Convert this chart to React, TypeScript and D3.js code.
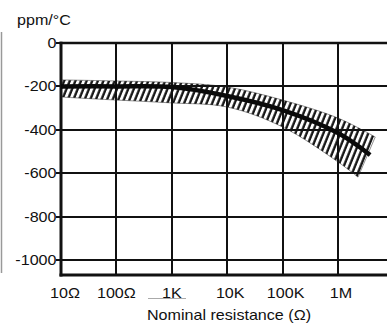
import React, { useRef, useEffect } from "react";
import * as d3 from "d3";

// resistance (ohm) and TCR (ppm/°C)
const resistance = [10, 100, 1000, 10000, 100000, 1000000];
const upperTcr = [-170, -175, -182, -203, -263, -346];
const centerTcr = [-200, -200, -203, -244, -309, -415];
const lowerTcr = [-249, -263, -276, -295, -387, -548];
// where each curve stops on the right
const upperEnd = [4.7e6, -433];
const centerEnd = [3.8e6, -516];
const lowerEnd = [2.3e6, -618];

const yTicks = [0, -200, -400, -600, -800, -1000];
const xTicks = [10, 100, 1000, 10000, 100000, 1000000];
const xTickLabels = ["10Ω", "100Ω", "1K", "10K", "100K", "1M"];

const W = 387;
const H = 327;
const SX = 1.15; // the scan is stretched sideways

const App: React.FC = () => {
    const svgRef = useRef<SVGSVGElement | null>(null);

    useEffect(() => {
        if (!svgRef.current) return;
        const svg = d3.select(svgRef.current);
        svg.selectAll("*").remove();

        const x = d3.scaleLog().domain([10, 1e6]).range([61, 338]);
        const y = d3.scaleLinear().domain([0, -1000]).range([43, 260]);
        const px = (v: number) => Math.round(x(v));
        const py = (v: number) => Math.round(y(v));
        const yBottom = Math.round(y(-1069));
        const xRight = W;

        const font = "'Liberation Sans', Arial, sans-serif";

        const defs = svg.append("defs");
        defs.append("pattern")
            .attr("id", "hatch")
            .attr("patternUnits", "userSpaceOnUse")
            .attr("width", 5.2)
            .attr("height", 10)
            .attr("patternTransform", "rotate(22)")
            .append("line")
            .attr("x1", 1.4).attr("x2", 1.4)
            .attr("y1", 0).attr("y2", 10)
            .attr("stroke", "#111")
            .attr("stroke-width", 2.3);

        // scan artifact on the left edge
        svg.append("line")
            .attr("x1", 1.5).attr("x2", 1.5)
            .attr("y1", 32).attr("y2", 273)
            .attr("stroke", "#999").attr("stroke-width", 1.5);

        // grid
        const grid = svg.append("g").attr("stroke", "#111");
        grid.selectAll("line.h")
            .data(yTicks.slice(1))
            .join("line")
            .attr("class", "h")
            .attr("x1", px(10)).attr("x2", xRight)
            .attr("y1", d => py(d)).attr("y2", d => py(d))
            .attr("stroke-width", 2);
        grid.selectAll("line.v")
            .data(xTicks.slice(1))
            .join("line")
            .attr("class", "v")
            .attr("x1", d => px(d)).attr("x2", d => px(d))
            .attr("y1", py(0)).attr("y2", yBottom)
            .attr("stroke-width", 2);

        // frame
        grid.append("line")
            .attr("x1", px(10) - 1.5).attr("x2", xRight)
            .attr("y1", py(0)).attr("y2", py(0))
            .attr("stroke-width", 2.6);
        grid.append("line")
            .attr("x1", px(10) - 1.5).attr("x2", xRight)
            .attr("y1", yBottom).attr("y2", yBottom)
            .attr("stroke-width", 3);
        grid.append("line")
            .attr("x1", px(10)).attr("x2", px(10))
            .attr("y1", py(0) - 1.3).attr("y2", yBottom + 1.5)
            .attr("stroke-width", 3);

        // y ticks
        grid.selectAll("line.t")
            .data(yTicks)
            .join("line")
            .attr("class", "t")
            .attr("x1", px(10) - 5).attr("x2", px(10))
            .attr("y1", d => py(d)).attr("y2", d => py(d))
            .attr("stroke-width", 2);

        // tolerance band
        const upperPts: [number, number][] = resistance.map((r, i) => [x(r), y(upperTcr[i])]);
        upperPts.push([x(upperEnd[0]), y(upperEnd[1])]);
        const lowerPts: [number, number][] = resistance.map((r, i) => [x(r), y(lowerTcr[i])]);
        lowerPts.push([x(lowerEnd[0]), y(lowerEnd[1])]);
        const curve = d3.line().curve(d3.curveCatmullRom.alpha(0.5));
        const upPath = curve(upperPts) as string;
        const lowPath = (curve(lowerPts.slice().reverse()) as string).replace(/^M/, "L");
        svg.append("path")
            .attr("d", upPath + lowPath + "Z")
            .attr("fill", "url(#hatch)")
            .attr("stroke", "#222")
            .attr("stroke-width", 0.5);

        // nominal curve
        const centerPts: [number, number][] = resistance.map((r, i) => [x(r), y(centerTcr[i])]);
        centerPts.push([x(centerEnd[0]), y(centerEnd[1])]);
        svg.append("path")
            .attr("d", curve(centerPts) as string)
            .attr("fill", "none")
            .attr("stroke", "#0a0a0a")
            .attr("stroke-width", 4.5);

        // labels
        const txt = svg.append("g")
            .attr("font-family", font)
            .attr("font-size", 14)
            .attr("fill", "#111");

        txt.selectAll("text.y")
            .data(yTicks)
            .join("text")
            .attr("class", "y")
            .attr("text-anchor", "end")
            .attr("dy", "0.36em")
            .attr("transform", d => `translate(${px(10) - 4.5},${py(d)}) scale(${SX},1)`)
            .text(d => String(d));

        txt.selectAll("text.x")
            .data(xTicks)
            .join("text")
            .attr("class", "x")
            .attr("text-anchor", "middle")
            .attr("transform", (d, i) => `translate(${x(d) + (i === 0 ? 4 : i > 2 ? 3 : 0)},298) scale(${SX},1)`)
            .text((d, i) => xTickLabels[i]);

        txt.append("text")
            .attr("transform", `translate(17,25) scale(${SX},1)`)
            .text("ppm/°C");

        txt.append("text")
            .attr("text-anchor", "middle")
            .attr("transform", `translate(229,320) scale(${SX},1)`)
            .text("Nominal resistance (Ω)");

        // grey stroke under the 1K label in the scan
        svg.append("line")
            .attr("x1", 148).attr("x2", 186)
            .attr("y1", 298.5).attr("y2", 298.5)
            .attr("stroke", "#aaa").attr("stroke-width", 1.2);
    }, []);

    return (
        <svg
            ref={svgRef}
            width={W}
            height={H}
            style={{ position: "fixed", left: 0, top: 0, background: "#fff" }}
        />
    );
};

export default App;
